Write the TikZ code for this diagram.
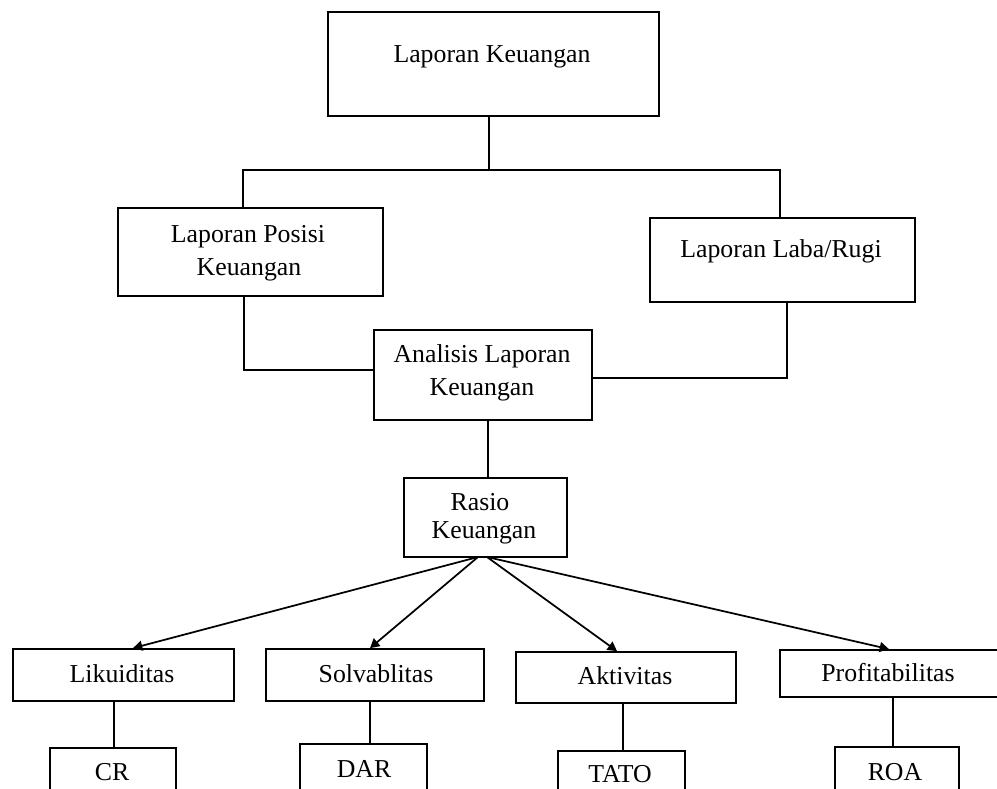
\documentclass[tikz,border=0pt]{standalone}
\usepackage{fontspec}
\setmainfont{Liberation Serif}
\usetikzlibrary{fit,arrows.meta}
\begin{document}
\begin{tikzpicture}[x=0.75pt,y=-0.75pt,
  box/.style={draw=black,line width=1.3pt,inner sep=0pt,rectangle},
  txt/.style={anchor=base,inner sep=0pt,font=\fontsize{19.35pt}{23pt}\selectfont},
  ln/.style={draw=black,line width=1.3pt},
  arr/.style={draw=black,line width=1.3pt,-{Triangle[length=7pt,width=7.5pt]}}]
\useasboundingbox (0,0) rectangle (997,789);
\clip (0,0) rectangle (997,789);
% boxes
\node[box,fit={(328,12) (659,116)}] (top) {};
\node[box,fit={(118,208) (383,296)}] (pos) {};
\node[box,fit={(650,218) (915,302)}] (lr) {};
\node[box,fit={(374,330) (592,420)}] (ana) {};
\node[box,fit={(404,478) (567,557)}] (ras) {};
\node[box,fit={(13,649) (234,701)}] (lik) {};
\node[box,fit={(266,649) (484,701)}] (sol) {};
\node[box,fit={(516,652) (736,703)}] (akt) {};
\node[box,fit={(780,650) (999,697)}] (pro) {};
\node[box,fit={(50,748) (176,800)}] (cr) {};
\node[box,fit={(300,744) (427,800)}] (dar) {};
\node[box,fit={(558,751) (685,800)}] (tato) {};
\node[box,fit={(835,747) (959,800)}] (roa) {};
% texts
\node[txt] (t1) at (492,62) {Laporan Keuangan};
\node[txt] (t2) at (248,242) {Laporan Posisi};
\node[txt] (t3) at (249,275) {Keuangan};
\node[txt] (t4) at (781,257) {Laporan Laba/Rugi};
\node[txt] (t5) at (482,362) {Analisis Laporan};
\node[txt] (t6) at (482,395) {Keuangan};
\node[txt] (t7) at (480,510) {Rasio};
\node[txt] (t8) at (484,538) {Keuangan};
\node[txt] (t9) at (122,682) {Likuiditas};
\node[txt] (t10) at (376,682) {Solvablitas};
\node[txt] (t11) at (625,684) {Aktivitas};
\node[txt] (t12) at (888,681) {Profitabilitas};
\node[txt] (t13) at (112,780) {CR};
\node[txt] (t14) at (364,777) {DAR};
\node[txt] (t15) at (620,782) {TATO};
\node[txt] (t16) at (895,780) {ROA};
% junction coordinates
\coordinate (jm) at (489,170);
\coordinate (jl) at (243,170);
\coordinate (jr) at (780,170);
\coordinate (pl) at (244,370);
\coordinate (pr) at (787,378);
\coordinate (ax) at (488,420);
\coordinate (sl) at (478,557);
\coordinate (sr) at (487,557);
% top tree
\draw[ln] (top.south -| jm) -- (jm);
\draw[ln] (jl |- pos.north) -- (jl) -- (jr) -- (jr |- lr.north);
% to analysis
\draw[ln] (pl |- pos.south) -- (pl) -- (pl -| ana.west);
\draw[ln] (pr |- lr.south) -- (pr) -- (pr -| ana.east);
\draw[ln] (ax |- ana.south) -- (ax |- ras.north);
% arrows
\coordinate (e1) at (133,649);
\coordinate (e2) at (370,649);
\coordinate (e3) at (617,652);
\coordinate (e4) at (889,650);
\draw[arr] (sl) -- (e1 |- lik.north);
\draw[arr] (sl) -- (e2 |- sol.north);
\draw[arr] (sr) -- (e3 |- akt.north);
\draw[arr] (sr) -- (e4 |- pro.north);
% lower lines
\coordinate (v1) at (114,701);
\coordinate (v2) at (370,701);
\coordinate (v3) at (623,703);
\coordinate (v4) at (893,697);
\draw[ln] (v1 |- lik.south) -- (v1 |- cr.north);
\draw[ln] (v2 |- sol.south) -- (v2 |- dar.north);
\draw[ln] (v3 |- akt.south) -- (v3 |- tato.north);
\draw[ln] (v4 |- pro.south) -- (v4 |- roa.north);
\end{tikzpicture}
\end{document}
